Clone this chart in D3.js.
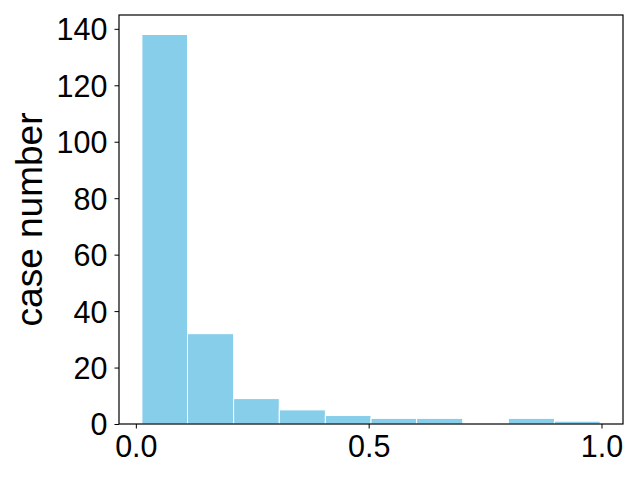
<!DOCTYPE html>
<html>
<head>
<meta charset="utf-8">
<script src="https://cdn.jsdelivr.net/npm/d3@7"></script>
<style>
  html, body { margin: 0; padding: 0; background: #fff; }
  svg { display: block; }
  text { font-family: "Liberation Sans", Arial, sans-serif; fill: #000; }
</style>
</head>
<body>
<svg id="chart" width="640" height="480"></svg>
<script>
// Data
const binEdges = [0.013, 0.111, 0.210, 0.308, 0.407, 0.505, 0.603, 0.702, 0.800, 0.899, 0.997];
const counts = [138, 32, 9, 5, 3, 2, 2, 0, 2, 1];
const xTicks = [0.0, 0.5, 1.0];
const yTicks = [0, 20, 40, 60, 80, 100, 120, 140];
const yLabel = "case number";

(function () {
const svg = d3.select("#chart");
const mLeft = 119, mRight = 623, mTop = 15, mBottom = 424;

const xMin = binEdges[0], xMax = binEdges[binEdges.length - 1];
const pad = (xMax - xMin) * 0.05;
const x = d3.scaleLinear().domain([xMin - pad, xMax + pad]).range([mLeft, mRight]);
const y = d3.scaleLinear().domain([0, d3.max(counts) * 1.05]).range([mBottom, mTop]);

const bins = counts.map((c, i) => ({ x0: binEdges[i], x1: binEdges[i + 1], c }));

svg.append("g").selectAll("rect").data(bins.filter(d => d.c > 0)).join("rect")
  .attr("x", d => x(d.x0))
  .attr("width", d => x(d.x1) - x(d.x0))
  .attr("y", d => y(d.c))
  .attr("height", d => y(0) - y(d.c))
  .attr("fill", "#87CEEB")
  .attr("stroke", "#fff")
  .attr("stroke-width", 1);

// Frame
svg.append("rect")
  .attr("x", mLeft).attr("y", mTop)
  .attr("width", mRight - mLeft).attr("height", mBottom - mTop)
  .attr("fill", "none").attr("stroke", "#000").attr("stroke-width", 1.2);

const fs = 30.5;
// X axis
const xAxis = d3.axisBottom(x).tickValues(xTicks).tickFormat(d3.format(".1f")).tickSize(4.5).tickPadding(6);
const gx = svg.append("g").attr("transform", `translate(0,${mBottom})`).call(xAxis);
gx.select(".domain").remove();
gx.selectAll(".tick line").attr("stroke", "#000").attr("stroke-width", 1);
gx.selectAll(".tick text").attr("font-size", fs).attr("dy", null).attr("y", 33).attr("font-family", "Liberation Sans, Arial, sans-serif");

// Y axis
const yAxis = d3.axisLeft(y).tickValues(yTicks).tickFormat(d3.format("d")).tickSize(4.5).tickPadding(7);
const gy = svg.append("g").attr("transform", `translate(${mLeft},0)`).call(yAxis);
gy.select(".domain").remove();
gy.selectAll(".tick line").attr("stroke", "#000").attr("stroke-width", 1);
gy.selectAll(".tick text").attr("font-size", fs).attr("dy", "0.36em").attr("font-family", "Liberation Sans, Arial, sans-serif");

// Y label
svg.append("text")
  .attr("transform", `translate(42,${(mTop + mBottom) / 2}) rotate(-90)`)
  .attr("text-anchor", "middle")
  .attr("font-size", 37)
  .text(yLabel);
})();
</script>
</body>
</html>
